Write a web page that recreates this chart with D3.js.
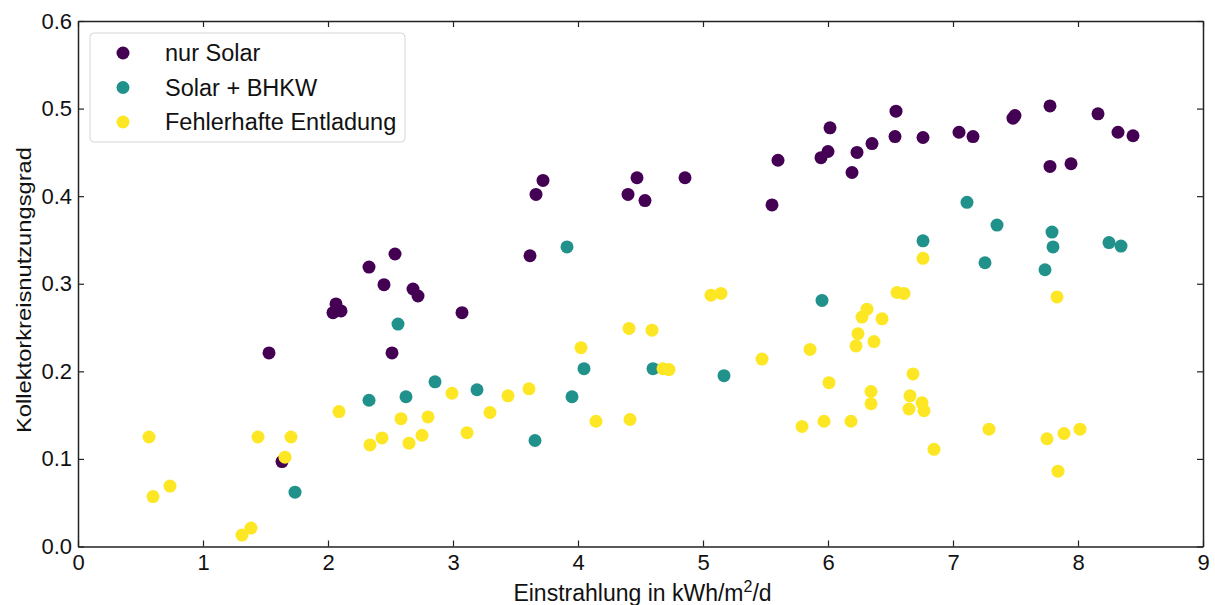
<!DOCTYPE html>
<html>
<head>
<meta charset="utf-8">
<script src="https://cdn.jsdelivr.net/npm/d3@7"></script>
<style>
  body { margin: 0; background: #fff; }
  svg { font-family: "Liberation Sans", Arial, sans-serif; }
</style>
</head>
<body>
<svg width="1215" height="605"></svg>
<script>
// nur Solar
var soloX = [1.528,1.632,2.04,2.064,2.104,2.328,2.448,2.512,2.536,2.68,2.72,3.072,3.616,3.664,3.72,4.40,4.472,4.536,4.856,5.552,5.60,5.944,6.0,6.016,6.192,6.232,6.352,6.536,6.544,6.76,7.048,7.16,7.48,7.496,7.776,7.776,7.944,8.16,8.32,8.44];
var soloY = [0.221,0.097,0.267,0.277,0.269,0.319,0.299,0.221,0.334,0.294,0.286,0.267,0.332,0.402,0.418,0.402,0.421,0.395,0.421,0.390,0.441,0.444,0.451,0.478,0.427,0.450,0.460,0.468,0.497,0.467,0.473,0.468,0.489,0.492,0.503,0.434,0.437,0.494,0.473,0.469];
// Solar + BHKW
var bhkwX = [1.736,2.328,2.56,2.624,2.856,3.192,3.656,3.912,3.952,4.048,4.60,5.168,5.952,6.76,7.112,7.256,7.352,7.736,7.792,7.80,8.248,8.344];
var bhkwY = [0.062,0.167,0.254,0.171,0.188,0.179,0.121,0.342,0.171,0.203,0.203,0.195,0.281,0.349,0.393,0.324,0.367,0.316,0.359,0.342,0.347,0.343];
// Fehlerhafte Entladung
var fehlX = [0.568,0.60,0.736,1.312,1.384,1.44,1.656,1.704,2.088,2.336,2.432,2.584,2.648,2.752,2.80,2.992,3.112,3.296,3.44,3.608,4.024,4.144,4.408,4.416,4.592,4.68,4.728,5.064,5.144,5.472,5.792,5.856,5.968,6.008,6.184,6.224,6.24,6.272,6.312,6.344,6.344,6.368,6.432,6.552,6.608,6.648,6.656,6.68,6.752,6.768,6.76,6.848,7.288,7.752,7.84,7.832,7.888,8.016];
var fehlY = [0.125,0.057,0.069,0.013,0.021,0.125,0.102,0.125,0.154,0.116,0.124,0.146,0.118,0.127,0.148,0.175,0.130,0.153,0.172,0.180,0.227,0.143,0.249,0.145,0.247,0.203,0.202,0.287,0.289,0.214,0.137,0.225,0.143,0.187,0.143,0.229,0.243,0.262,0.271,0.177,0.163,0.234,0.260,0.290,0.289,0.157,0.172,0.197,0.164,0.155,0.329,0.111,0.134,0.123,0.086,0.285,0.129,0.134];

var seriesNames = ['nur Solar', 'Solar + BHKW', 'Fehlerhafte Entladung'];
var seriesColors = ['#440154', '#21918c', '#fde725'];
var xTicks = [0,1,2,3,4,5,6,7,8,9];
var yTicks = [0.0,0.1,0.2,0.3,0.4,0.5,0.6];

var svg = d3.select('svg'),
    pL = 78, pR = 1203, pT = 21, pB = 546.5;

var x = d3.scaleLinear().domain([0, 9]).range([pL, pR]);
var y = d3.scaleLinear().domain([0, 0.6]).range([pB, pT]);

var series = [
  {name: seriesNames[0], color: seriesColors[0], xs: soloX, ys: soloY},
  {name: seriesNames[1], color: seriesColors[1], xs: bhkwX, ys: bhkwY},
  {name: seriesNames[2], color: seriesColors[2], xs: fehlX, ys: fehlY}
];

// punkte
series.forEach(function(s) {
  svg.append('g').selectAll('circle')
    .data(s.xs.map(function(v, i) { return [v, s.ys[i]]; }))
    .enter().append('circle')
    .attr('cx', function(d) { return x(d[0]); })
    .attr('cy', function(d) { return y(d[1]); })
    .attr('r', 6.5)
    .attr('fill', s.color);
});

// achsen, ticks nach innen
var axB = svg.append('g').attr('transform', 'translate(0,' + pB + ')')
  .call(d3.axisBottom(x).tickValues(xTicks).tickSizeInner(-6).tickSizeOuter(0).tickPadding(8).tickFormat(d3.format('d')));
var axT = svg.append('g').attr('transform', 'translate(0,' + pT + ')')
  .call(d3.axisTop(x).tickValues(xTicks).tickSizeInner(-6).tickSizeOuter(0).tickFormat(''));
var axL = svg.append('g').attr('transform', 'translate(' + pL + ',0)')
  .call(d3.axisLeft(y).tickValues(yTicks).tickSizeInner(-6).tickSizeOuter(0).tickPadding(6).tickFormat(d3.format('.1f')));
var axR = svg.append('g').attr('transform', 'translate(' + pR + ',0)')
  .call(d3.axisRight(y).tickValues(yTicks).tickSizeInner(-6).tickSizeOuter(0).tickFormat(''));

[axB, axT, axL, axR].forEach(function(a) {
  a.select('.domain').attr('stroke', '#222').attr('stroke-width', 1.5);
  a.selectAll('.tick line').attr('stroke', '#222').attr('stroke-width', 1.2);
  a.selectAll('.tick text').attr('font-size', 22).attr('fill', '#111')
    .attr('font-family', '"Liberation Sans", Arial, sans-serif');
});
axB.selectAll('.tick text').attr('dy', '0.71em');

// beschriftung
var xl = svg.append('text')
  .attr('x', (pL + pR) / 2 + 2)
  .attr('y', 601)
  .attr('text-anchor', 'middle')
  .attr('font-size', 23)
  .attr('fill', '#111');
xl.append('tspan').text('Einstrahlung in kWh/m');
xl.append('tspan').attr('font-size', 16).attr('dy', -9).text('2');
xl.append('tspan').attr('dy', 9).text('/d');

svg.append('text')
  .attr('transform', 'translate(31,290) rotate(-90)')
  .attr('text-anchor', 'middle')
  .attr('font-size', 21)
  .attr('textLength', 286)
  .attr('lengthAdjust', 'spacingAndGlyphs')
  .attr('fill', '#111')
  .text('Kollektorkreisnutzungsgrad');

// legende
var lg = svg.append('g');
lg.append('rect')
  .attr('x', 90).attr('y', 33)
  .attr('width', 315).attr('height', 109)
  .attr('rx', 4)
  .attr('fill', '#fff').attr('fill-opacity', 0.8)
  .attr('stroke', '#d6d6d6').attr('stroke-width', 1);
series.forEach(function(s, i) {
  lg.append('circle')
    .attr('cx', 123).attr('cy', 53 + i * 34.5)
    .attr('r', 6.5).attr('fill', s.color);
  lg.append('text')
    .attr('x', 165).attr('y', 53 + i * 34.5)
    .attr('dy', '0.36em')
    .attr('font-size', 23.5).attr('fill', '#111')
    .text(s.name);
});
</script>
</body>
</html>
